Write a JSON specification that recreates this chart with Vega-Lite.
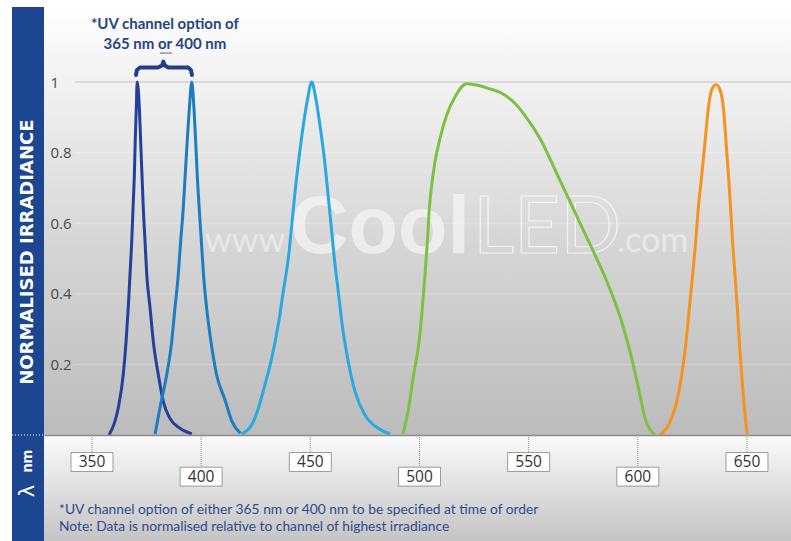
{
  "$schema": "https://vega.github.io/schema/vega-lite/v6.json",
  "width": 747,
  "height": 428,
  "autosize": {"type": "none"},
  "padding": {"left": 44, "top": 7, "right": 0, "bottom": 106},
  "background": "white",
  "config": {"view": {"stroke": null}},
  "datasets": {
    "curves": [
      {"ch": "365", "nm": 357.8, "v": 0.0}, {"ch": "365", "nm": 362.0, "v": 0.076}, {"ch": "365", "nm": 364.3, "v": 0.17}, {"ch": "365", "nm": 365.6, "v": 0.264}, {"ch": "365", "nm": 366.6, "v": 0.36}, {"ch": "365", "nm": 367.4, "v": 0.453}, {"ch": "365", "nm": 368.2, "v": 0.548}, {"ch": "365", "nm": 368.8, "v": 0.643}, {"ch": "365", "nm": 369.4, "v": 0.737}, {"ch": "365", "nm": 369.8, "v": 0.831}, {"ch": "365", "nm": 370.3, "v": 0.926}, {"ch": "365", "nm": 370.7, "v": 1.0}, {"ch": "365", "nm": 371.7, "v": 0.926}, {"ch": "365", "nm": 372.3, "v": 0.831}, {"ch": "365", "nm": 372.9, "v": 0.737}, {"ch": "365", "nm": 373.5, "v": 0.643}, {"ch": "365", "nm": 374.3, "v": 0.548}, {"ch": "365", "nm": 375.1, "v": 0.453}, {"ch": "365", "nm": 376.6, "v": 0.36}, {"ch": "365", "nm": 378.1, "v": 0.264}, {"ch": "365", "nm": 380.4, "v": 0.17}, {"ch": "365", "nm": 382.7, "v": 0.094}, {"ch": "365", "nm": 385.7, "v": 0.047}, {"ch": "365", "nm": 390.3, "v": 0.019}, {"ch": "365", "nm": 395.7, "v": 0.003},
      {"ch": "400", "nm": 378.9, "v": 0.003}, {"ch": "400", "nm": 381.1, "v": 0.076}, {"ch": "400", "nm": 384.2, "v": 0.17}, {"ch": "400", "nm": 386.5, "v": 0.264}, {"ch": "400", "nm": 388.0, "v": 0.36}, {"ch": "400", "nm": 389.5, "v": 0.453}, {"ch": "400", "nm": 390.6, "v": 0.548}, {"ch": "400", "nm": 391.8, "v": 0.643}, {"ch": "400", "nm": 392.7, "v": 0.737}, {"ch": "400", "nm": 393.6, "v": 0.831}, {"ch": "400", "nm": 394.6, "v": 0.926}, {"ch": "400", "nm": 395.7, "v": 1.0}, {"ch": "400", "nm": 396.7, "v": 0.926}, {"ch": "400", "nm": 397.5, "v": 0.831}, {"ch": "400", "nm": 398.2, "v": 0.737}, {"ch": "400", "nm": 399.1, "v": 0.643}, {"ch": "400", "nm": 400.1, "v": 0.548}, {"ch": "400", "nm": 401.1, "v": 0.453}, {"ch": "400", "nm": 402.5, "v": 0.36}, {"ch": "400", "nm": 404.5, "v": 0.264}, {"ch": "400", "nm": 407.1, "v": 0.17}, {"ch": "400", "nm": 410.9, "v": 0.1}, {"ch": "400", "nm": 414.0, "v": 0.04}, {"ch": "400", "nm": 418.0, "v": 0.005},
      {"ch": "450", "nm": 418.5, "v": 0.003}, {"ch": "450", "nm": 423.1, "v": 0.028}, {"ch": "450", "nm": 426.2, "v": 0.076}, {"ch": "450", "nm": 429.2, "v": 0.142}, {"ch": "450", "nm": 432.3, "v": 0.217}, {"ch": "450", "nm": 435.3, "v": 0.312}, {"ch": "450", "nm": 437.6, "v": 0.406}, {"ch": "450", "nm": 439.9, "v": 0.5}, {"ch": "450", "nm": 441.5, "v": 0.595}, {"ch": "450", "nm": 443.0, "v": 0.689}, {"ch": "450", "nm": 444.8, "v": 0.784}, {"ch": "450", "nm": 446.8, "v": 0.878}, {"ch": "450", "nm": 448.8, "v": 0.954}, {"ch": "450", "nm": 450.6, "v": 1.0}, {"ch": "450", "nm": 452.5, "v": 0.954}, {"ch": "450", "nm": 454.4, "v": 0.878}, {"ch": "450", "nm": 456.4, "v": 0.784}, {"ch": "450", "nm": 458.0, "v": 0.689}, {"ch": "450", "nm": 459.5, "v": 0.595}, {"ch": "450", "nm": 461.0, "v": 0.5}, {"ch": "450", "nm": 462.8, "v": 0.406}, {"ch": "450", "nm": 464.6, "v": 0.312}, {"ch": "450", "nm": 467.1, "v": 0.217}, {"ch": "450", "nm": 470.5, "v": 0.123}, {"ch": "450", "nm": 475.0, "v": 0.057}, {"ch": "450", "nm": 481.1, "v": 0.019}, {"ch": "450", "nm": 486.5, "v": 0.003},
      {"ch": "525", "nm": 492.4, "v": 0.003}, {"ch": "525", "nm": 495.0, "v": 0.076}, {"ch": "525", "nm": 497.3, "v": 0.17}, {"ch": "525", "nm": 499.8, "v": 0.264}, {"ch": "525", "nm": 501.3, "v": 0.359}, {"ch": "525", "nm": 502.5, "v": 0.453}, {"ch": "525", "nm": 503.6, "v": 0.548}, {"ch": "525", "nm": 504.5, "v": 0.642}, {"ch": "525", "nm": 505.6, "v": 0.708}, {"ch": "525", "nm": 507.1, "v": 0.774}, {"ch": "525", "nm": 509.4, "v": 0.84}, {"ch": "525", "nm": 512.5, "v": 0.907}, {"ch": "525", "nm": 516.3, "v": 0.958}, {"ch": "525", "nm": 521.6, "v": 0.995}, {"ch": "525", "nm": 525.4, "v": 0.992}, {"ch": "525", "nm": 531.5, "v": 0.982}, {"ch": "525", "nm": 537.7, "v": 0.968}, {"ch": "525", "nm": 543.7, "v": 0.94}, {"ch": "525", "nm": 549.8, "v": 0.892}, {"ch": "525", "nm": 556.0, "v": 0.831}, {"ch": "525", "nm": 562.1, "v": 0.751}, {"ch": "525", "nm": 568.2, "v": 0.671}, {"ch": "525", "nm": 574.3, "v": 0.59}, {"ch": "525", "nm": 580.4, "v": 0.51}, {"ch": "525", "nm": 586.5, "v": 0.425}, {"ch": "525", "nm": 592.6, "v": 0.321}, {"ch": "525", "nm": 597.2, "v": 0.217}, {"ch": "525", "nm": 601.0, "v": 0.113}, {"ch": "525", "nm": 603.3, "v": 0.047}, {"ch": "525", "nm": 606.4, "v": 0.009}, {"ch": "525", "nm": 607.9, "v": 0.003},
      {"ch": "635", "nm": 610.2, "v": 0.0}, {"ch": "635", "nm": 614.8, "v": 0.038}, {"ch": "635", "nm": 617.8, "v": 0.094}, {"ch": "635", "nm": 620.1, "v": 0.17}, {"ch": "635", "nm": 622.1, "v": 0.264}, {"ch": "635", "nm": 623.6, "v": 0.359}, {"ch": "635", "nm": 625.1, "v": 0.453}, {"ch": "635", "nm": 626.5, "v": 0.548}, {"ch": "635", "nm": 627.7, "v": 0.642}, {"ch": "635", "nm": 629.3, "v": 0.737}, {"ch": "635", "nm": 630.8, "v": 0.831}, {"ch": "635", "nm": 632.3, "v": 0.926}, {"ch": "635", "nm": 633.8, "v": 0.977}, {"ch": "635", "nm": 635.8, "v": 0.992}, {"ch": "635", "nm": 637.7, "v": 0.977}, {"ch": "635", "nm": 639.2, "v": 0.926}, {"ch": "635", "nm": 640.4, "v": 0.831}, {"ch": "635", "nm": 641.5, "v": 0.737}, {"ch": "635", "nm": 642.5, "v": 0.642}, {"ch": "635", "nm": 643.4, "v": 0.548}, {"ch": "635", "nm": 644.5, "v": 0.453}, {"ch": "635", "nm": 645.6, "v": 0.359}, {"ch": "635", "nm": 646.5, "v": 0.264}, {"ch": "635", "nm": 647.6, "v": 0.17}, {"ch": "635", "nm": 648.8, "v": 0.076}, {"ch": "635", "nm": 650.1, "v": 0.003}
    ],
    "ticks": [
      {"tick": 350, "level": "upper"}, {"tick": 400, "level": "lower"}, {"tick": 450, "level": "upper"}, {"tick": 500, "level": "lower"}, {"tick": 550, "level": "upper"}, {"tick": 600, "level": "lower"}, {"tick": 650, "level": "upper"}
    ],
    "grid": [{"v": 0.2}, {"v": 0.4}, {"v": 0.6}, {"v": 0.8}, {"v": 1.0}],
    "brace": [
      {"i": 0, "nm": 370.15, "v": 1.02}, {"i": 1, "nm": 370.6, "v": 1.034}, {"i": 2, "nm": 372.0, "v": 1.041}, {"i": 3, "nm": 380.2, "v": 1.041}, {"i": 4, "nm": 382.1, "v": 1.047}, {"i": 5, "nm": 382.7, "v": 1.058}, {"i": 6, "nm": 383.3, "v": 1.047}, {"i": 7, "nm": 385.0, "v": 1.041}, {"i": 8, "nm": 394.0, "v": 1.041}, {"i": 9, "nm": 395.3, "v": 1.034}, {"i": 10, "nm": 395.8, "v": 1.02}
    ],
    "dash": [{"i": 0, "nm": 381.1, "v": 1.082}, {"i": 1, "nm": 386.6, "v": 1.082}]
  },
  "layer": [
    {
      "data": {"values": [{}]},
      "mark": {"type": "rect", "fill": {"gradient": "linear", "x1": 0, "y1": 0, "x2": 0, "y2": 1, "stops": [{"offset": 0, "color": "#fefefe"}, {"offset": 0.2, "color": "#f0f0f0"}, {"offset": 0.55, "color": "#d6d6d6"}, {"offset": 1, "color": "#bcbcbc"}]}},
      "encoding": {
        "x": {"datum": 328.02, "type": "quantitative", "scale": {"domain": [328.02, 670.16], "nice": false, "zero": false}, "axis": {"domain": true, "domainColor": "#8c8c8c", "domainWidth": 1.5, "ticks": false, "labels": false, "grid": false, "title": null, "zindex": 1}},
        "x2": {"datum": 670.16},
        "y": {"datum": 0, "type": "quantitative", "scale": {"domain": [0, 1.2125], "nice": false, "zero": false}, "axis": {"values": [0.2, 0.4, 0.6, 0.8, 1], "format": "~g", "labelAlign": "left", "labelPadding": -6, "labelBound": false, "labelOverlap": false, "ticks": false, "domain": false, "grid": false, "title": null, "labelFont": "Open Sans", "labelFontSize": 15, "labelColor": "#4a4a4a", "zindex": 1}},
        "y2": {"datum": 1.2125}
      }
    },
    {
      "data": {"values": [{}]},
      "mark": {"type": "rect", "fill": {"gradient": "linear", "x1": 0, "y1": 0, "x2": 0, "y2": 1, "stops": [{"offset": 0, "color": "#fbfbfb"}, {"offset": 1, "color": "#c4c4c4"}]}},
      "encoding": {
        "x": {"datum": 328.02, "type": "quantitative"},
        "x2": {"datum": 670.16},
        "y": {"datum": 0, "type": "quantitative"},
        "y2": {"datum": -0.3003}
      }
    },
    {
      "data": {"values": [{}]},
      "mark": {"type": "rect", "fill": "#1d4691"},
      "encoding": {
        "x": {"datum": 313.36, "type": "quantitative"},
        "x2": {"datum": 328.02},
        "y": {"datum": -0.3003, "type": "quantitative"},
        "y2": {"datum": 1.2125}
      }
    },
    {
      "data": {"values": [{}]},
      "mark": {"type": "rule", "stroke": "white", "strokeDash": [1, 2], "strokeWidth": 1},
      "encoding": {
        "x": {"datum": 313.36, "type": "quantitative"},
        "x2": {"datum": 328.02},
        "y": {"datum": 0, "type": "quantitative"}
      }
    },
    {
      "data": {"name": "grid"},
      "transform": [{"filter": "datum.v == 1"}],
      "mark": {"type": "rule", "stroke": "#c2c2c2", "strokeWidth": 1},
      "encoding": {
        "x": {"datum": 342.2, "type": "quantitative"},
        "x2": {"datum": 670.16},
        "y": {"field": "v", "type": "quantitative"}
      }
    },
    {
      "data": {"name": "grid"},
      "transform": [{"filter": "datum.v < 1"}],
      "mark": {"type": "rule", "stroke": "#ffffff", "strokeOpacity": 0.25, "strokeWidth": 1},
      "encoding": {
        "x": {"datum": 342.2, "type": "quantitative"},
        "x2": {"datum": 670.16},
        "y": {"field": "v", "type": "quantitative"}
      }
    },
    {
      "data": {"values": [{}]},
      "mark": {"type": "text", "text": "www.", "font": "Lato", "fontSize": 34, "fill": "#ffffff", "opacity": 0.45, "align": "left", "baseline": "alphabetic"},
      "encoding": {"x": {"datum": 401.8, "type": "quantitative"}, "y": {"datum": 0.518, "type": "quantitative"}}
    },
    {
      "data": {"values": [{}]},
      "mark": {"type": "text", "text": "Cool", "font": "Liberation Sans", "fontWeight": "bold", "fontSize": 81, "fill": "#ffffff", "opacity": 0.55, "align": "left", "baseline": "alphabetic"},
      "encoding": {"x": {"datum": 440.7, "type": "quantitative"}, "y": {"datum": 0.516, "type": "quantitative"}}
    },
    {
      "data": {"values": [{}]},
      "mark": {"type": "text", "text": "LED", "font": "Lato", "fontSize": 80, "fill": null, "stroke": "#ffffff", "strokeWidth": 1.2, "strokeOpacity": 0.7, "align": "left", "baseline": "alphabetic"},
      "encoding": {"x": {"datum": 524.5, "type": "quantitative"}, "y": {"datum": 0.516, "type": "quantitative"}}
    },
    {
      "data": {"values": [{}]},
      "mark": {"type": "text", "text": ".com", "font": "Lato", "fontSize": 34, "fill": "#ffffff", "opacity": 0.45, "align": "left", "baseline": "alphabetic"},
      "encoding": {"x": {"datum": 590.5, "type": "quantitative"}, "y": {"datum": 0.518, "type": "quantitative"}}
    },
    {
      "data": {"name": "curves"},
      "mark": {"type": "line", "strokeWidth": 3, "interpolate": "monotone"},
      "encoding": {
        "x": {"field": "nm", "type": "quantitative"},
        "y": {"field": "v", "type": "quantitative"},
        "color": {"field": "ch", "type": "nominal", "scale": {"domain": ["365", "400", "450", "525", "635"], "range": ["#24409a", "#1c7dc0", "#28a9e0", "#7cc242", "#f6921e"]}, "legend": null},
        "detail": {"field": "ch"}
      }
    },
    {
      "data": {"name": "ticks"},
      "transform": [{"filter": "datum.level == 'upper'"}],
      "layer": [
        {
          "mark": {"type": "rule", "stroke": "#8c8c8c", "strokeDash": [1, 1], "strokeWidth": 1},
          "encoding": {"x": {"field": "tick", "type": "quantitative"}, "y": {"datum": 0, "type": "quantitative"}, "y2": {"datum": -0.048}}
        },
        {
          "mark": {"type": "point", "shape": "M-1,-0.45H1V0.45H-1Z", "size": 1764, "filled": true, "fill": "#ffffff", "stroke": "#9a9a9a", "strokeWidth": 1, "opacity": 1},
          "encoding": {"x": {"field": "tick", "type": "quantitative"}, "y": {"datum": -0.0765, "type": "quantitative"}}
        },
        {
          "mark": {"type": "text", "font": "Open Sans", "fontSize": 15.5, "fill": "#333333", "align": "center", "baseline": "middle"},
          "encoding": {"x": {"field": "tick", "type": "quantitative"}, "y": {"datum": -0.0765, "type": "quantitative"}, "text": {"field": "tick", "type": "nominal"}}
        }
      ]
    },
    {
      "data": {"name": "ticks"},
      "transform": [{"filter": "datum.level == 'lower'"}],
      "layer": [
        {
          "mark": {"type": "rule", "stroke": "#8c8c8c", "strokeDash": [1, 1], "strokeWidth": 1},
          "encoding": {"x": {"field": "tick", "type": "quantitative"}, "y": {"datum": 0, "type": "quantitative"}, "y2": {"datum": -0.0907}}
        },
        {
          "mark": {"type": "point", "shape": "M-1,-0.45H1V0.45H-1Z", "size": 1764, "filled": true, "fill": "#ffffff", "stroke": "#9a9a9a", "strokeWidth": 1, "opacity": 1},
          "encoding": {"x": {"field": "tick", "type": "quantitative"}, "y": {"datum": -0.118, "type": "quantitative"}}
        },
        {
          "mark": {"type": "text", "font": "Open Sans", "fontSize": 15.5, "fill": "#333333", "align": "center", "baseline": "middle"},
          "encoding": {"x": {"field": "tick", "type": "quantitative"}, "y": {"datum": -0.118, "type": "quantitative"}, "text": {"field": "tick", "type": "nominal"}}
        }
      ]
    },
    {
      "data": {"values": [{}]},
      "mark": {"type": "text", "text": "NORMALISED IRRADIANCE", "font": "DejaVu Sans", "fontWeight": "bold", "fontSize": 18, "fill": "#ffffff", "angle": 270, "align": "center", "baseline": "middle"},
      "encoding": {"x": {"datum": 320.9, "type": "quantitative"}, "y": {"datum": 0.518, "type": "quantitative"}}
    },
    {
      "data": {"values": [{}]},
      "mark": {"type": "text", "text": "nm", "font": "Open Sans", "fontWeight": "bold", "fontSize": 14, "fill": "#ffffff", "angle": 270, "align": "center", "baseline": "middle"},
      "encoding": {"x": {"datum": 320.9, "type": "quantitative"}, "y": {"datum": -0.074, "type": "quantitative"}}
    },
    {
      "data": {"values": [{}]},
      "mark": {"type": "text", "text": "λ", "font": "DejaVu Sans", "fontWeight": "normal", "fontSize": 21, "fill": "#ffffff", "angle": 270, "align": "center", "baseline": "middle"},
      "encoding": {"x": {"datum": 320.9, "type": "quantitative"}, "y": {"datum": -0.159, "type": "quantitative"}}
    },
    {
      "data": {"values": [{}]},
      "mark": {"type": "text", "text": "*UV channel option of", "font": "Lato", "fontWeight": "bold", "fontSize": 15, "fill": "#27457f", "align": "center", "baseline": "middle"},
      "encoding": {"x": {"datum": 383.4, "type": "quantitative"}, "y": {"datum": 1.164, "type": "quantitative"}}
    },
    {
      "data": {"values": [{}]},
      "mark": {"type": "text", "text": "365 nm or 400 nm", "font": "Lato", "fontWeight": "bold", "fontSize": 15, "fill": "#27457f", "align": "center", "baseline": "middle"},
      "encoding": {"x": {"datum": 383.4, "type": "quantitative"}, "y": {"datum": 1.109, "type": "quantitative"}}
    },
    {
      "data": {"name": "brace"},
      "mark": {"type": "line", "stroke": "#213f8c", "strokeWidth": 4, "strokeCap": "round", "strokeJoin": "round", "interpolate": "linear"},
      "encoding": {"x": {"field": "nm", "type": "quantitative"}, "y": {"field": "v", "type": "quantitative"}, "order": {"field": "i"}}
    },
    {
      "data": {"name": "dash"},
      "mark": {"type": "line", "stroke": "#8896b5", "strokeWidth": 1.5},
      "encoding": {"x": {"field": "nm", "type": "quantitative"}, "y": {"field": "v", "type": "quantitative"}, "order": {"field": "i"}}
    },
    {
      "data": {"values": [{}]},
      "mark": {"type": "text", "text": "*UV channel option of either 365 nm or 400 nm to be specified at time of order", "font": "Lato", "fontSize": 13.8, "fill": "#2d4b8e", "align": "left", "baseline": "middle"},
      "encoding": {"x": {"datum": 334.9, "type": "quantitative"}, "y": {"datum": -0.2125, "type": "quantitative"}}
    },
    {
      "data": {"values": [{}]},
      "mark": {"type": "text", "text": "Note: Data is normalised relative to channel of highest irradiance", "font": "Lato", "fontSize": 13.8, "fill": "#2d4b8e", "align": "left", "baseline": "middle"},
      "encoding": {"x": {"datum": 334.9, "type": "quantitative"}, "y": {"datum": -0.2606, "type": "quantitative"}}
    }
  ]
}
